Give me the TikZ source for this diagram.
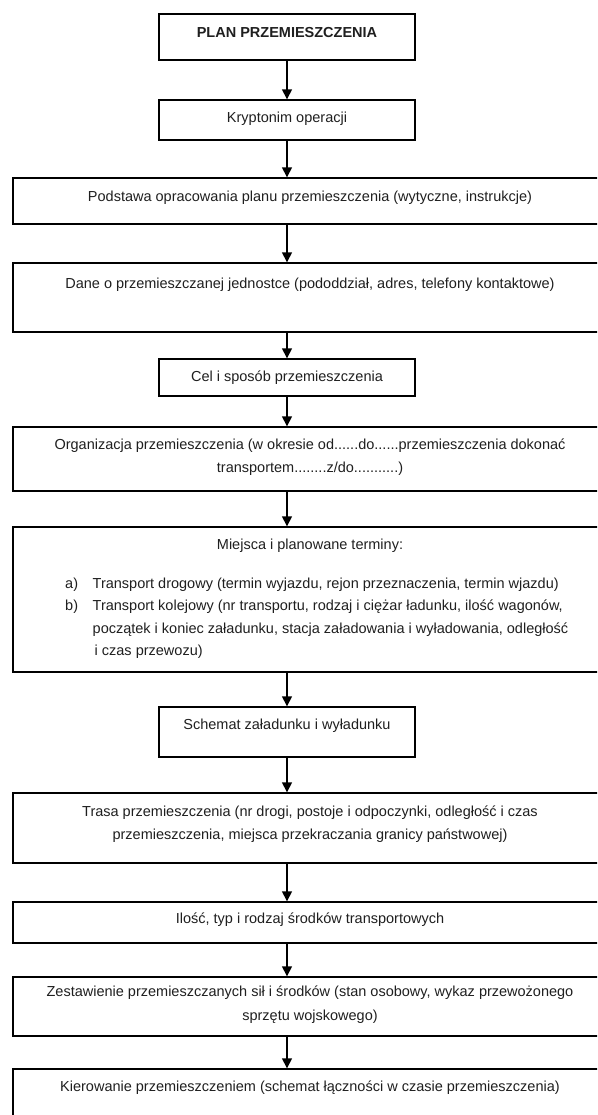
\documentclass[tikz,border=0pt]{standalone}
\usepackage{fontspec}
\setmainfont{Liberation Sans}
\usetikzlibrary{arrows.meta}
\begin{document}
\begin{tikzpicture}[x=1pt,y=-1pt,
  box/.style={draw=black, line width=1.4pt, inner sep=0pt, rectangle},
  txt/.style={anchor=base, inner sep=0pt, font=\fontsize{14.5}{23}\selectfont, text=black!88},
  ltxt/.style={txt, anchor=base west},
  arr/.style={-{Triangle[length=10pt,width=10pt]}, line width=1.5pt}]
\useasboundingbox (0,0) rectangle (597,1115);
\clip (0,0) rectangle (597,1115);
% boxes
\node[box, minimum width=256pt, minimum height=46pt] (b1) at (287,37) {};
\node[box, minimum width=256pt, minimum height=40pt] (b2) at (287,120) {};
\node[box, minimum width=594pt, minimum height=46pt] (b3) at (310,201) {};
\node[box, minimum width=594pt, minimum height=69pt] (b4) at (310,297.5) {};
\node[box, minimum width=256pt, minimum height=37pt] (b5) at (287,377.5) {};
\node[box, minimum width=594pt, minimum height=64pt] (b6) at (310,459) {};
\node[box, minimum width=594pt, minimum height=145pt] (b7) at (310,599.5) {};
\node[box, minimum width=256pt, minimum height=50pt] (b8) at (287,732) {};
\node[box, minimum width=594pt, minimum height=70pt] (b9) at (310,828) {};
\node[box, minimum width=594pt, minimum height=41pt] (b10) at (310,922.5) {};
\node[box, minimum width=594pt, minimum height=59pt] (b11) at (310,1006.5) {};
\node[box, minimum width=594pt, minimum height=71pt] (b12) at (310,1104.5) {};
% texts
\node[txt, font=\fontsize{14.5}{23}\selectfont\bfseries] (t1) at (287,37.3) {PLAN PRZEMIESZCZENIA};
\node[txt] (t2) at (287,122.5) {Kryptonim operacji};
\node[txt] (t3) at (310,201.5) {Podstawa opracowania planu przemieszczenia (wytyczne, instrukcje)};
\node[txt] (t4) at (310,288) {Dane o przemieszczanej jednostce (pododdział, adres, telefony kontaktowe)};
\node[txt] (t5) at (287,381) {Cel i sposób przemieszczenia};
\node[txt, font=\fontsize{14.5}{22.5}\selectfont] (t6) at (310,449.5) {\begin{tabular}[t]{@{}c@{}}Organizacja przemieszczenia (w okresie od......do......przemieszczenia dokonać\\ transportem........z/do...........)\end{tabular}};
\node[txt] (t7) at (310,549.5) {Miejsca i planowane terminy:};
\node[ltxt] (t7a) at (65,588.5) {a)};
\node[ltxt] (t7at) at (92.5,588.5) {Transport drogowy (termin wyjazdu, rejon przeznaczenia, termin wjazdu)};
\node[ltxt] (t7b) at (65,610.5) {b)};
\node[ltxt, font=\fontsize{14.5}{22.5}\selectfont] (t7bt) at (92.5,610.5) {\begin{tabular}[t]{@{}l@{}}Transport kolejowy (nr transportu, rodzaj i ciężar ładunku, ilość wagonów,\\ początek i koniec załadunku, stacja załadowania i wyładowania, odległość\\ \hspace{2pt}i czas przewozu)\end{tabular}};
\node[txt] (t8) at (287,729.5) {Schemat załadunku i wyładunku};
\node[txt] (t9) at (310,816.5) {\begin{tabular}[t]{@{}c@{}}Trasa przemieszczenia (nr drogi, postoje i odpoczynki, odległość i czas\\ przemieszczenia, miejsca przekraczania granicy państwowej)\end{tabular}};
\node[txt] (t10) at (310,923.5) {Ilość, typ i rodzaj środków transportowych};
\node[txt, font=\fontsize{14.5}{24}\selectfont] (t11) at (310,996.5) {\begin{tabular}[t]{@{}c@{}}Zestawienie przemieszczanych sił i środków (stan osobowy, wykaz przewożonego\\ sprzętu wojskowego)\end{tabular}};
\node[txt] (t12) at (310,1091.5) {Kierowanie przemieszczeniem (schemat łączności w czasie przemieszczenia)};
% arrows
\draw[arr] (b1.south) -- (b2.north);
\draw[arr] (b2.south) -- (b2.south |- b3.north);
\draw[arr] (b3.south -| b1.south) -- (b4.north -| b1.south);
\draw[arr] (b4.south -| b5.north) -- (b5.north);
\draw[arr] (b5.south) -- (b5.south |- b6.north);
\draw[arr] (b6.south -| b1.south) -- (b7.north -| b1.south);
\draw[arr] (b7.south -| b8.north) -- (b8.north);
\draw[arr] (b8.south) -- (b8.south |- b9.north);
\draw[arr] (b9.south -| b1.south) -- (b10.north -| b1.south);
\draw[arr] (b10.south -| b1.south) -- (b11.north -| b1.south);
\draw[arr] (b11.south -| b1.south) -- (b12.north -| b1.south);
\end{tikzpicture}
\end{document}
